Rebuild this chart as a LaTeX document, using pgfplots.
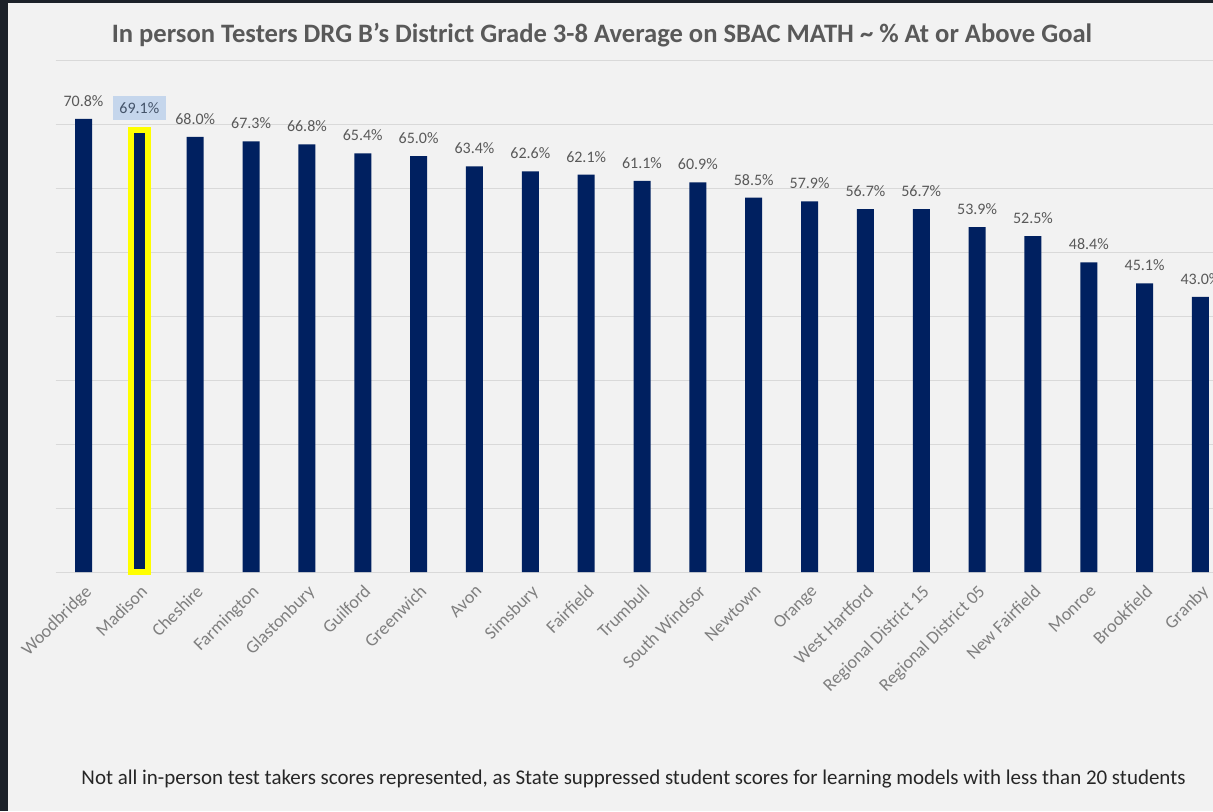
\documentclass[border=0pt]{standalone}
\usepackage{pgfplots}
\pgfplotsset{compat=1.18}
\usepackage{fontspec}
\setmainfont{Carlito}

\definecolor{navy}{HTML}{002060}
\definecolor{hiyellow}{HTML}{FFFF00}
\definecolor{gridgray}{HTML}{D9D9D9}
\definecolor{bgcol}{HTML}{F2F2F2}
\definecolor{frame}{HTML}{1C2129}
\definecolor{lblgray}{HTML}{595959}
\definecolor{tickgray}{HTML}{7F7F7F}
\definecolor{hlfill}{HTML}{C5D6EC}
\definecolor{hltext}{HTML}{44546A}

\begin{document}
\begin{tikzpicture}
% 1 px of the reference = 0.5pt
\useasboundingbox (0,0) rectangle (606.5pt,405.5pt);
\clip (0,0) rectangle (606.5pt,405.5pt);
\fill[bgcol] (0,0) rectangle (606.5pt,405.5pt);
\fill[frame] (0,0) rectangle (4pt,405.5pt);
\fill[frame] (0,404pt) rectangle (606.5pt,405.5pt);

\begin{axis}[
  at={(27.8pt,119.5pt)}, anchor=south west,
  scale only axis, width=586.4pt, height=256pt,
  xmin=-0.5, xmax=20.5, ymin=0, ymax=80,
  axis line style={draw=none}, tick style={draw=none},
  ytick={0,10,...,80}, yticklabels={},
  ymajorgrids, grid style={draw=gridgray, line width=0.5pt},
  xtick={0,...,20},
  xticklabels={Woodbridge,Madison,Cheshire,Farmington,Glastonbury,Guilford,Greenwich,Avon,Simsbury,Fairfield,Trumbull,South Windsor,Newtown,Orange,West Hartford,Regional District 15,Regional District 05,New Fairfield,Monroe,Brookfield,Granby},
  x tick label style={rotate=45, anchor=north east, font=\fontsize{9}{10}\selectfont, text=tickgray, inner sep=1pt},
  ybar, bar width=8.5pt, bar shift=0pt,
  clip=false,
  /pgf/number format/assume math mode=true,
  nodes near coords={\pgfmathprintnumber[fixed,fixed zerofill,precision=1]{\pgfplotspointmeta}\%},
]
\addplot[fill=navy, draw=none,
  every node near coord/.append style={font=\fontsize{8}{9}\selectfont, text=lblgray, inner sep=0pt, yshift=6pt}]
  coordinates {(0,70.8)(2,68.0)(3,67.3)(4,66.8)(5,65.4)(6,65.0)(7,63.4)(8,62.6)(9,62.1)(10,61.1)(11,60.9)(12,58.5)(13,57.9)(14,56.7)(15,56.7)(16,53.9)(17,52.5)(18,48.4)(19,45.1)(20,43.0)};
\addplot[fill=navy, draw=hiyellow, line width=2.75pt,
  every node near coord/.append style={font=\fontsize{8}{9}\selectfont, text=hltext, fill=hlfill, inner xsep=3.25pt, inner ysep=3.2pt, yshift=3.4pt}]
  coordinates {(1,69.1)};
\end{axis}

\node[font=\bfseries\fontsize{13.3}{15}\selectfont, text=lblgray] at (301pt,388pt)
  {In person Testers DRG B's District Grade 3-8 Average on SBAC MATH \textasciitilde{} \% At or Above Goal};
\node[font=\fontsize{10.5}{12}\selectfont, text=black!85, inner sep=0pt] at (316.75pt,16pt)
  {\resizebox{552pt}{!}{Not all in-person test takers scores represented, as State suppressed student scores for learning models with less than 20 students}};
\end{tikzpicture}
\end{document}
